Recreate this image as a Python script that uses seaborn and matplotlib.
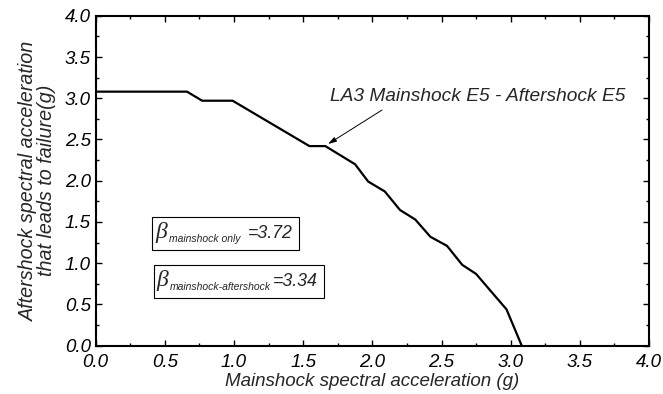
import matplotlib
matplotlib.use("Agg")
import matplotlib.pyplot as plt
from matplotlib.ticker import MultipleLocator, FormatStrFormatter
from matplotlib.transforms import IdentityTransform
from matplotlib.patches import Rectangle
import seaborn as sns
import pandas as pd

# Failure curve: aftershock capacity vs. mainshock intensity
mainshock_sa = [0.00, 0.66, 0.77, 0.99, 1.545, 1.66, 1.875, 1.97, 2.09, 2.20,
                2.31, 2.42, 2.54, 2.65, 2.75, 2.97, 3.08]
aftershock_sa = [3.08, 3.08, 2.97, 2.97, 2.42, 2.42, 2.20, 1.99, 1.87, 1.645,
                 1.53, 1.32, 1.21, 0.98, 0.87, 0.44, 0.00]
beta_labels = ["mainshock only", "mainshock-aftershock"]
beta_values = [3.72, 3.34]
curve_label = "LA3 Mainshock E5 - Aftershock E5"

sns.set_style("ticks")
plt.rcParams["font.family"] = ["Liberation Sans", "DejaVu Sans"]
plt.rcParams["font.style"] = "italic"

df = pd.DataFrame({"ms": mainshock_sa, "as": aftershock_sa})

fig = plt.figure(figsize=(6.63, 3.94), dpi=100)
ax = fig.add_axes([0.1443, 0.1226, 0.9789 - 0.1443, 0.960 - 0.1226])

sns.lineplot(data=df, x="ms", y="as", ax=ax, color="black", linewidth=1.6,
             sort=False, estimator=None)

ax.set_xlim(0, 4)
ax.set_ylim(0, 4)
ax.xaxis.set_major_locator(MultipleLocator(0.5))
ax.xaxis.set_minor_locator(MultipleLocator(0.25))
ax.yaxis.set_major_locator(MultipleLocator(0.5))
ax.yaxis.set_minor_locator(MultipleLocator(0.25))
ax.xaxis.set_major_formatter(FormatStrFormatter("%.1f"))
ax.yaxis.set_major_formatter(FormatStrFormatter("%.1f"))
ax.tick_params(which="both", direction="in", top=True, right=True,
               labelsize=13.5, width=1.0, color="black", labelcolor="black")
ax.tick_params(which="major", length=4.5)
ax.tick_params(which="minor", length=2.5)
ax.tick_params(axis="x", pad=6)
ax.tick_params(axis="y", pad=3.5)
for s in ax.spines.values():
    s.set_linewidth(1.5)
    s.set_color("black")
    s.set_visible(True)

ax.set_xlabel("Mainshock spectral acceleration (g)", fontsize=13.5, labelpad=1.5)
ax.set_ylabel("Aftershock spectral acceleration\nthat leads to failure(g)",
              fontsize=14.2, labelpad=6, linespacing=0.95)

# Curve label and leader arrow
ax.text(1.694, 3.02, curve_label, fontsize=13.8, ha="left", va="center")
ax.annotate("", xy=(1.68, 2.445), xytext=(2.07, 2.857),
            arrowprops=dict(arrowstyle="-|>,head_length=0.5,head_width=0.15",
                            color="black", lw=0.7, shrinkA=0, shrinkB=0))

# Reliability index boxes: beta with a small subscript, then the value
renderer = fig.canvas.get_renderer()


def beta_box(x, y, sub, value, sub_gap, val_gap):
    px, py = ax.transData.transform((x, y))
    t_beta = fig.text(px, py, "\u03b2", transform=IdentityTransform(),
                      family="Liberation Serif", style="italic", fontsize=17,
                      ha="left", va="baseline")
    bb = t_beta.get_window_extent(renderer)
    t_sub = fig.text(bb.x1 + sub_gap, py - 4, sub, transform=IdentityTransform(),
                     fontsize=7.5, ha="left", va="baseline")
    bs = t_sub.get_window_extent(renderer)
    t_val = fig.text(bs.x1 + val_gap, py, f"={value:.2f}",
                     transform=IdentityTransform(), fontsize=12.8,
                     ha="left", va="baseline")
    bv = t_val.get_window_extent(renderer)
    x0 = bb.x0 - 3
    x1 = bv.x1 + 7
    y0 = py - 12
    y1 = py + 21
    fig.patches.append(Rectangle((x0, y0), x1 - x0, y1 - y0,
                                 transform=IdentityTransform(),
                                 facecolor="none", edgecolor="black",
                                 linewidth=0.8))


beta_box(0.43, 1.31, beta_labels[0], beta_values[0], 2, 7)
beta_box(0.44, 0.72, beta_labels[1], beta_values[1], 2, 1)

fig.savefig("out.png", dpi=100)
